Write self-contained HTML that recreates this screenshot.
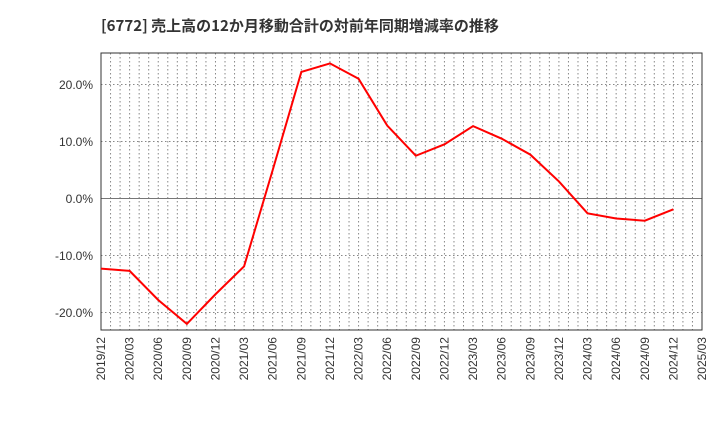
<!DOCTYPE html>
<html><head><meta charset="utf-8"><style>
body{margin:0;background:#fff;}
svg{display:block;font-family:"Liberation Sans","Noto Sans CJK JP",sans-serif;}
</style></head><body>
<svg id="chart" width="720" height="440">
<text x="101" y="31" font-size="15" font-weight="bold" fill="#333" style="font-family:'Noto Sans CJK JP','Liberation Sans',sans-serif">[6772]  売上高の12か月移動合計の対前年同期増減率の推移</text>
<g id="grid"></g><g id="axes"></g><g id="series"></g>
</svg>
<script>
const categories=["2019/12","2020/03","2020/06","2020/09","2020/12","2021/03","2021/06","2021/09","2021/12","2022/03","2022/06","2022/09","2022/12","2023/03","2023/06","2023/09","2023/12","2024/03","2024/06","2024/09","2024/12","2025/03"];
const values=[-12.3,-12.7,-17.8,-22.0,-16.8,-11.9,5.0,22.2,23.7,21.0,12.8,7.5,9.5,12.7,10.5,7.7,3.0,-2.6,-3.5,-3.9,-1.9];
const yTicks=[20,10,0,-10,-20];
const ns="http://www.w3.org/2000/svg";
const L=101,R=702,T=53,B=330;
const x=i=>L+(R-L)*i/(categories.length-1);
const y=v=>198.5-v*5.7;
function mk(tag,attrs,parent){const e=document.createElementNS(ns,tag);for(const k in attrs)e.setAttribute(k,attrs[k]);parent.appendChild(e);return e;}
const grid=document.getElementById('grid'),axes=document.getElementById('axes'),series=document.getElementById('series');
for(let m=1;m<(categories.length-1)*3;m++){const xx=L+(R-L)*m/((categories.length-1)*3);
const ln=mk('line',{x1:xx,x2:xx,y1:T,y2:B,stroke:'#888','stroke-dasharray':'1.5,2.5','stroke-width':1},grid);
}
yTicks.forEach(t=>{const yy=y(t);
const ln=mk('line',{x1:L,x2:R,y1:yy,y2:yy,stroke:t===0?'#777':'#888','stroke-dasharray':t===0?'none':'1.5,2.5','stroke-width':1},grid);

const tx=mk('text',{x:L-8,y:yy+4.5,'text-anchor':'end','font-size':12,fill:'#333'},axes);tx.textContent=t.toFixed(1)+'%';
});
categories.forEach((c,i)=>{const xx=x(i);
const tx=mk('text',{x:xx+4,y:B+7,'text-anchor':'end','font-size':12,fill:'#333',transform:`rotate(-90 ${xx+4} ${B+7})`},axes);tx.textContent=c;
});
const fr=mk('rect',{x:L,y:T,width:R-L,height:B-T,fill:'none',stroke:'#333','stroke-width':1},axes);

const pl=mk('polyline',{points:values.map((v,i)=>x(i)+','+y(v)).join(' '),fill:'none',stroke:'#f00','stroke-width':2},series);

</script>
</body></html>
